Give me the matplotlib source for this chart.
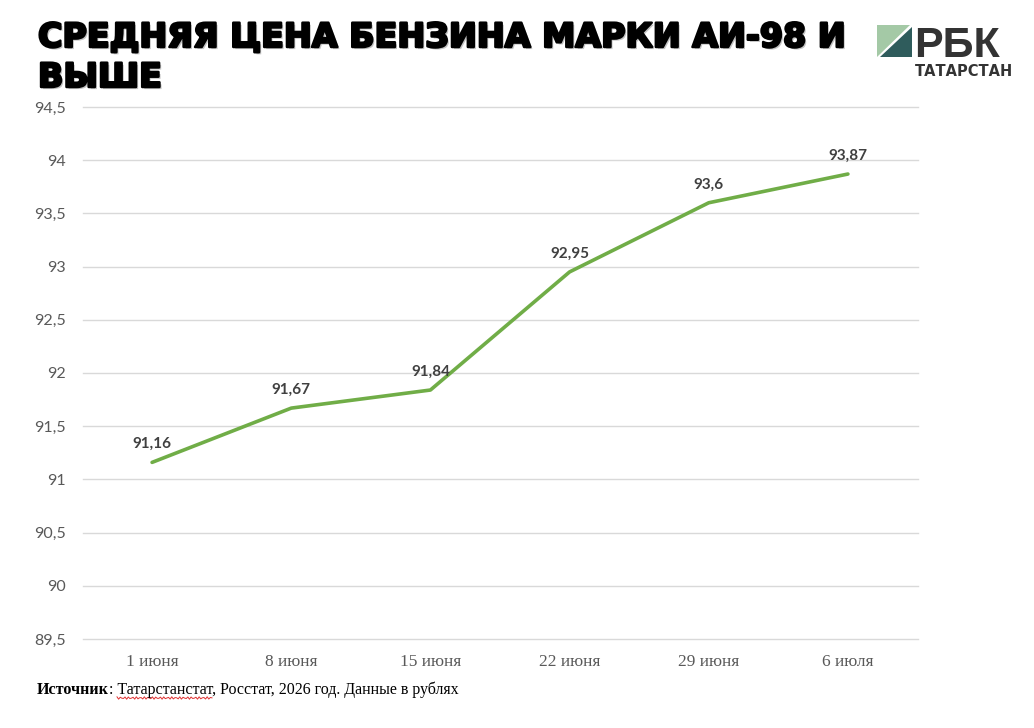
import matplotlib
matplotlib.use("Agg")
import matplotlib.pyplot as plt
import matplotlib.patheffects as pe
from matplotlib.patches import Polygon
from matplotlib.ticker import FuncFormatter, MultipleLocator
import numpy as np

# ─── Data ───────────────────────────────────────────────────
dates  = ["1 июня", "8 июня", "15 июня", "22 июня", "29 июня", "6 июля"]
prices = [91.16, 91.67, 91.84, 92.95, 93.6, 93.87]
labels = ["91,16", "91,67", "91,84", "92,95", "93,6", "93,87"]

title_lines = ["СРЕДНЯЯ ЦЕНА БЕНЗИНА МАРКИ АИ-98 И", "ВЫШЕ"]
source_bold = "Источник"
source_rest = ": Татарстанстат, Росстат, 2026 год. Данные в рублях"

GREEN = "#70AD47"
GRID  = "#d9d9d9"
TICK  = "#595959"
LABEL = "#404040"

W, H = 1034, 728
fig = plt.figure(figsize=(W / 100, H / 100), dpi=100, facecolor="white")

# ── chart area ──
ax = fig.add_axes([82.5 / W, 1 - 639 / H, 835 / W, 532 / H])
x = np.arange(len(dates))
ax.plot(x, prices, color=GREEN, linewidth=2.6, solid_capstyle="round", zorder=3)
for xi, yi, lab in zip(x, prices, labels):
    ax.annotate(lab, (xi, yi), xytext=(0, 8), textcoords="offset points",
                ha="center", va="bottom", fontsize=11, fontweight="bold",
                color=LABEL, family="Lato", zorder=4)

ax.set_xlim(-0.5, len(dates) - 0.5)
ax.set_ylim(89.5, 94.5)
ax.yaxis.set_major_locator(MultipleLocator(0.5))
ax.yaxis.set_major_formatter(FuncFormatter(
    lambda v, _: (f"{v:.1f}".rstrip("0").rstrip(".")).replace(".", ",")))
ax.set_xticks(x)
ax.set_xticklabels(dates, family="Liberation Serif", fontsize=12.5, color=TICK)
ax.tick_params(axis="y", labelsize=11.5, labelcolor=TICK, length=0, pad=12)
ax.tick_params(axis="x", length=0, pad=11)
for lab in ax.get_yticklabels():
    lab.set_family("Lato")
ax.grid(axis="y", color=GRID, linewidth=1)
for gl in ax.get_ygridlines():
    gl.set_clip_on(False)
for s in ax.spines.values():
    s.set_visible(False)
ax.set_axisbelow(True)

# ── overlay in pixel coords for title, logo and source ──
ov = fig.add_axes([0, 0, 1, 1], zorder=5)
ov.set_xlim(0, W)
ov.set_ylim(H, 0)
ov.axis("off")

title_fx = [pe.withSimplePatchShadow(offset=(1.5, -1.5), shadow_rgbFace="#888888", alpha=0.5),
            pe.withStroke(linewidth=1.8, foreground="black")]
for i, line in enumerate(title_lines):
    ov.text(38, 47 + 40 * i, line, ha="left", va="baseline", fontsize=24,
            fontweight="bold", family="DejaVu Sans", color="black",
            path_effects=title_fx)

# logo
ov.add_patch(Polygon([(877, 25), (910, 25), (877, 57)], closed=True,
                     facecolor="#a4c9a6", edgecolor="none"))
ov.add_patch(Polygon([(912, 27), (912, 57), (880, 57)], closed=True,
                     facecolor="#2f5c5c", edgecolor="none"))
ov.text(914, 57, "РБК", ha="left", va="baseline", fontsize=31, fontweight="bold",
        family="Liberation Sans", color="#333333")
ov.text(915, 76, "ТАТАРСТАН", ha="left", va="baseline", fontsize=10.5,
        fontweight="bold", family="DejaVu Sans", color="#333333")

# source
t1 = ov.text(37, 694, source_bold, ha="left", va="baseline", fontsize=11.5,
             fontweight="bold", family="Liberation Serif", color="black")
fig.canvas.draw()
x_end = t1.get_window_extent().x1
ov.text(x_end, H - 694, source_rest, ha="left", va="baseline", fontsize=11.5,
        family="Liberation Serif", color="black", transform=None)

# spell-check squiggle
wx = np.linspace(117, 212, 60)
wy = 698 + 1.2 * np.sin(wx * 1.6)
ov.plot(wx, wy, color="#e03030", linewidth=0.7)

fig.savefig("out.png", dpi=100, facecolor="white")
